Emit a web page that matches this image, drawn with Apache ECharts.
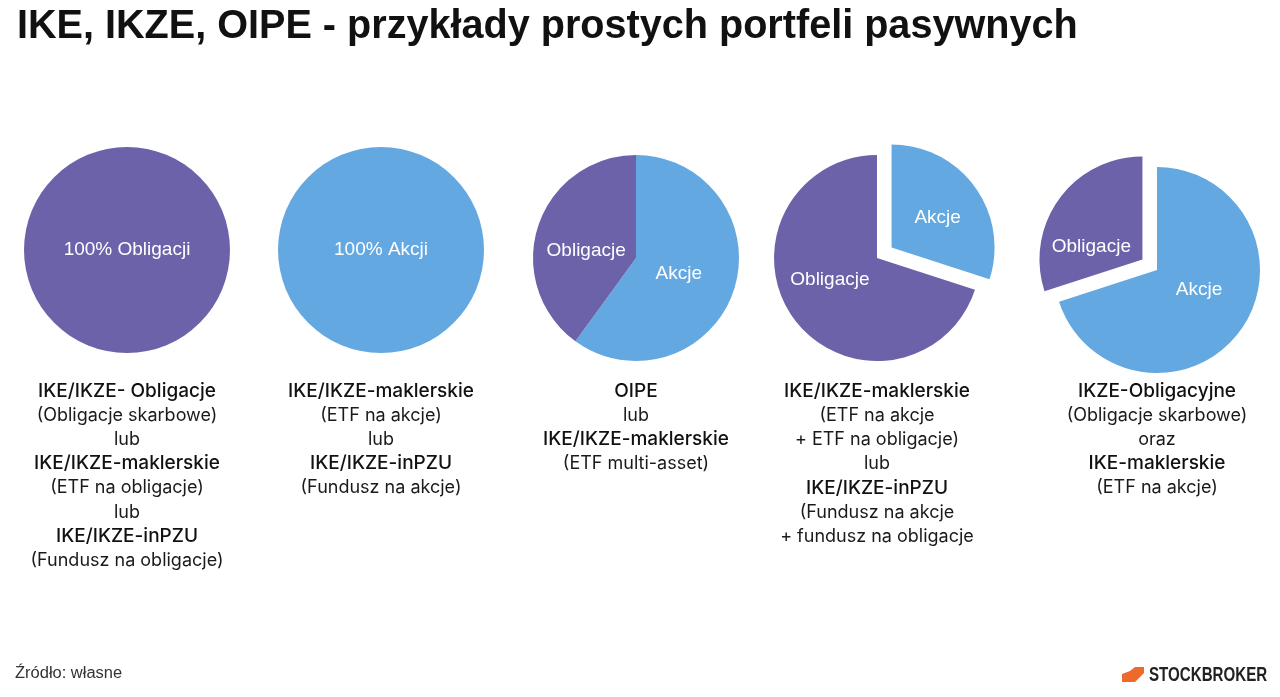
<!DOCTYPE html>
<html>
<head>
<meta charset="utf-8">
<script src="https://cdn.jsdelivr.net/npm/echarts@6/dist/echarts.min.js"></script>
<style>
  html, body { margin: 0; padding: 0; background: #fff; }
  #chart { width: 1280px; height: 697px; }
</style>
</head>
<body>
<div id="chart"></div>
<script>
// dane portfeli
const categories = ['Akcje', 'Obligacje']
const akcje = [0, 100, 60, 30, 70]
const obligacje = [100, 0, 40, 70, 30]
// ktory kawalek jest wysuniety (null = zaden)
const exploded = [null, null, null, 'Akcje', 'Obligacje']

const descriptions = [
  [['b', 'IKE/IKZE- Obligacje'], ['n', '(Obligacje skarbowe)'], ['n', 'lub'], ['b', 'IKE/IKZE-maklerskie'], ['n', '(ETF na obligacje)'], ['n', 'lub'], ['b', 'IKE/IKZE-inPZU'], ['n', '(Fundusz na obligacje)']],
  [['b', 'IKE/IKZE-maklerskie'], ['n', '(ETF na akcje)'], ['n', 'lub'], ['b', 'IKE/IKZE-inPZU'], ['n', '(Fundusz na akcje)']],
  [['b', 'OIPE'], ['n', 'lub'], ['b', 'IKE/IKZE-maklerskie'], ['n', '(ETF multi-asset)']],
  [['b', 'IKE/IKZE-maklerskie'], ['n', '(ETF na akcje'], ['n', '+ ETF na obligacje)'], ['n', 'lub'], ['b', 'IKE/IKZE-inPZU'], ['n', '(Fundusz na akcje'], ['n', '+ fundusz na obligacje']],
  [['b', 'IKZE-Obligacyjne'], ['n', '(Obligacje skarbowe)'], ['n', 'oraz'], ['b', 'IKE-maklerskie'], ['n', '(ETF na akcje)']]
]

const colors = { Akcje: '#63a8e1', Obligacje: '#6b62aa' }
const fullLabel = { Akcje: '100% Akcji', Obligacje: '100% Obligacji' }

// rozmieszczenie wykresow
const centers = [[127, 250], [381, 250], [636, 258], [877, 258], [1157, 270]]
// korekty polozenia etykiet (dx, dy)
const labelShift = [
  { Akcje: [0, 0], Obligacje: [0, 0] },
  { Akcje: [0, 0], Obligacje: [0, 0] },
  { Akcje: [-9, -1], Obligacje: [2, 10] },
  { Akcje: [2, 2], Obligacje: [-3, -10] },
  { Akcje: [-2, -12], Obligacje: [-7, 19] }
]

const chart = echarts.init(document.getElementById('chart'))

const series = centers.map((center, i) => {
  const values = [akcje[i], obligacje[i]]
  const data = []
  categories.forEach((name, k) => {
    if (values[k] === 0) return
    const full = values[k] === 100
    data.push({
      name,
      value: values[k],
      selected: exploded[i] === name,
      itemStyle: { color: colors[name] },
      label: {
        position: full ? 'center' : 'inside',
        formatter: full ? fullLabel[name] : name
      }
    })
  })
  return {
    type: 'pie',
    center,
    radius: 103,
    startAngle: 90,
    clockwise: true,
    selectedMode: 'multiple',
    selectedOffset: 18,
    animation: false,
    silent: true,
    labelLine: { show: false },
    label: {
      show: true,
      color: '#fff',
      fontSize: 19,
      fontFamily: 'Liberation Sans',
      fontWeight: 'normal'
    },
    labelLayout: function (params) {
      const s = labelShift[i][data[params.dataIndex].name]
      return { dx: s[0], dy: s[1] }
    },
    itemStyle: { borderWidth: 0 },
    emphasis: { disabled: true },
    data
  }
})

const graphics = [
  {
    type: 'text',
    x: 17,
    y: 27,
    scaleX: 0.99,
    style: {
      text: 'IKE, IKZE, OIPE - przykłady prostych portfeli pasywnych',
      fontFamily: 'Liberation Sans',
      fontWeight: 'bold',
      fontSize: 40,
      verticalAlign: 'middle',
      fill: '#111'
    }
  },
  {
    type: 'text',
    x: 15,
    y: 674,
    scaleX: 1.03,
    style: {
      text: 'Źródło: własne',
      fontFamily: 'Liberation Sans',
      fontSize: 16,
      verticalAlign: 'middle',
      fill: '#333'
    }
  },
  {
    type: 'polygon',
    shape: {
      points: [[1122, 674], [1130, 671], [1135, 667], [1144, 667], [1144, 673], [1135, 682], [1122, 682]]
    },
    style: { fill: '#ee6a2c' }
  },
  {
    type: 'text',
    x: 1149,
    y: 675,
    scaleX: 0.72,
    style: {
      text: 'STOCKBROKER',
      fontFamily: 'Liberation Sans',
      fontWeight: 'bold',
      fontSize: 21,
      verticalAlign: 'middle',
      fill: '#222'
    }
  }
]

// opisy pod wykresami
descriptions.forEach((lines, i) => {
  graphics.push({
    type: 'text',
    x: centers[i][0],
    y: 379,
    style: {
      text: lines.map(([s, t]) => '{' + s + '|' + t + '}').join('\n'),
      align: 'center',
      verticalAlign: 'top',
      rich: {
        b: { fontFamily: 'Inter', fontSize: 19, fontWeight: 500, lineHeight: 24.2, fill: '#111' },
        n: { fontFamily: 'Inter', fontSize: 18, fontWeight: 400, lineHeight: 24.2, fill: '#1a1a1a' }
      }
    }
  })
})

chart.setOption({
  backgroundColor: '#fff',
  animation: false,
  graphic: graphics,
  series
})
</script>
</body>
</html>
